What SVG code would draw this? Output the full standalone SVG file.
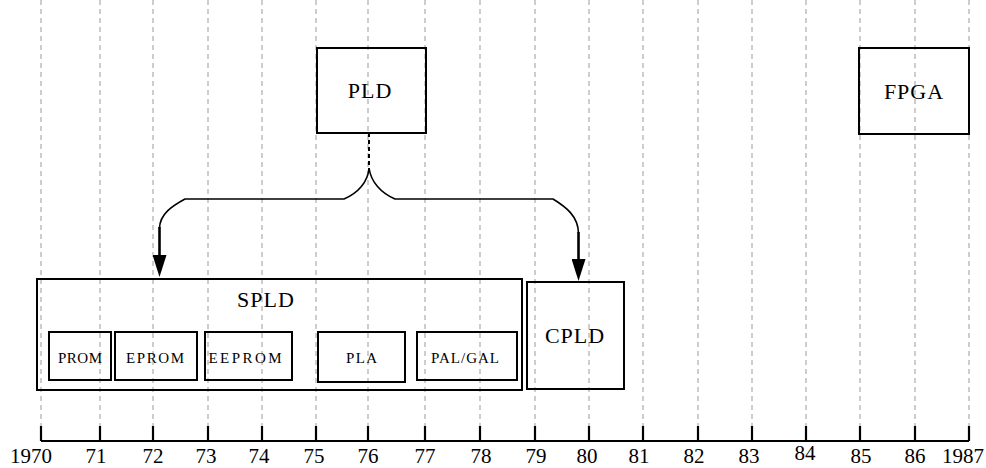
<svg xmlns="http://www.w3.org/2000/svg" width="986" height="468" viewBox="0 0 986 468">
<style>
.grid{stroke:#bdbdbd;stroke-width:1.5;stroke-dasharray:5 4;fill:none}
.box{fill:none;stroke:#000;stroke-width:2}
.ibox{fill:none;stroke:#000;stroke-width:2}
.t{font-family:"Liberation Serif","Times New Roman",serif;fill:#000;text-anchor:middle}
.big{font-size:22px;letter-spacing:1px}
.small{font-size:15px}
.axis{font-size:21px}
.tick{stroke:#000;stroke-width:2.2}
.conn{fill:none;stroke:#000;stroke-width:1.6}
.stem{fill:none;stroke:#000;stroke-width:2.6}
</style>
<defs>
<marker id="arr" viewBox="0 0 22 14" refX="0" refY="7" markerWidth="22" markerHeight="14" markerUnits="userSpaceOnUse" orient="auto">
<path d="M0,0 L22,7 L0,14 Z" fill="#000"/>
</marker>
</defs>
<rect width="986" height="468" fill="#fff"/>
<g id="grid">
<line class="grid" x1="41" y1="0" x2="41" y2="427"/>
<line class="grid" x1="100" y1="0" x2="100" y2="427"/>
<line class="grid" x1="153" y1="0" x2="153" y2="427"/>
<line class="grid" x1="208" y1="0" x2="208" y2="427"/>
<line class="grid" x1="262" y1="0" x2="262" y2="427"/>
<line class="grid" x1="316" y1="0" x2="316" y2="427"/>
<line class="grid" x1="368" y1="0" x2="368" y2="427"/>
<line class="grid" x1="425" y1="0" x2="425" y2="427"/>
<line class="grid" x1="480" y1="0" x2="480" y2="427"/>
<line class="grid" x1="535" y1="0" x2="535" y2="427"/>
<line class="grid" x1="589" y1="0" x2="589" y2="427"/>
<line class="grid" x1="643" y1="0" x2="643" y2="427"/>
<line class="grid" x1="698" y1="0" x2="698" y2="427"/>
<line class="grid" x1="752" y1="0" x2="752" y2="427"/>
<line class="grid" x1="806" y1="0" x2="806" y2="427"/>
<line class="grid" x1="860" y1="0" x2="860" y2="427"/>
<line class="grid" x1="915" y1="0" x2="915" y2="427"/>
<line class="grid" x1="969" y1="0" x2="969" y2="427"/>
</g>
<g id="axis">
<line x1="41" y1="441" x2="969" y2="441" stroke="#000" stroke-width="2"/>
<line class="tick" x1="41" y1="426" x2="41" y2="441" stroke-width="3"/>
<line class="tick" x1="100" y1="426" x2="100" y2="441"/>
<line class="tick" x1="153" y1="426" x2="153" y2="441"/>
<line class="tick" x1="208" y1="426" x2="208" y2="441"/>
<line class="tick" x1="262" y1="426" x2="262" y2="441"/>
<line class="tick" x1="316" y1="426" x2="316" y2="441"/>
<line class="tick" x1="368" y1="426" x2="368" y2="441"/>
<line class="tick" x1="425" y1="426" x2="425" y2="441" stroke-width="3"/>
<line class="tick" x1="480" y1="426" x2="480" y2="441"/>
<line class="tick" x1="535" y1="426" x2="535" y2="441" stroke-width="3"/>
<line class="tick" x1="589" y1="426" x2="589" y2="441"/>
<line class="tick" x1="643" y1="426" x2="643" y2="441" stroke-width="3"/>
<line class="tick" x1="698" y1="426" x2="698" y2="441"/>
<line class="tick" x1="752" y1="426" x2="752" y2="441"/>
<line class="tick" x1="806" y1="426" x2="806" y2="441"/>
<line class="tick" x1="860" y1="426" x2="860" y2="441"/>
<line class="tick" x1="915" y1="426" x2="915" y2="441"/>
<line class="tick" x1="969" y1="426" x2="969" y2="441"/>
<text class="t axis" x="31" y="463">1970</text>
<text class="t axis" x="96" y="463">71</text>
<text class="t axis" x="153" y="463">72</text>
<text class="t axis" x="206" y="463">73</text>
<text class="t axis" x="259" y="463">74</text>
<text class="t axis" x="314" y="463">75</text>
<text class="t axis" x="368" y="463">76</text>
<text class="t axis" x="425" y="463">77</text>
<text class="t axis" x="481" y="463">78</text>
<text class="t axis" x="536" y="463">79</text>
<text class="t axis" x="587" y="463">80</text>
<text class="t axis" x="639" y="463">81</text>
<text class="t axis" x="694" y="463">82</text>
<text class="t axis" x="749" y="463">83</text>
<text class="t axis" x="805" y="460">84</text>
<text class="t axis" x="861" y="463">85</text>
<text class="t axis" x="915" y="463">86</text>
<text class="t axis" x="963" y="463">1987</text>
</g>
<g id="PLD">
<rect class="box" x="317" y="48" width="109" height="85"/>
<text class="t big" x="370" y="98">PLD</text>
</g>
<g id="FPGA">
<rect class="box" x="859" y="48" width="110" height="86"/>
<text class="t big" x="914" y="99">FPGA</text>
</g>
<g id="SPLD">
<rect class="box" x="37" y="279" width="485" height="111"/>
<text class="t big" x="266" y="307">SPLD</text>
</g>
<g id="PROM">
<rect class="ibox" x="49" y="332" width="62" height="48"/>
<text class="t small" x="80" y="363" textLength="44" lengthAdjust="spacing">PROM</text>
</g>
<g id="EPROM">
<rect class="ibox" x="115" y="332" width="82" height="48"/>
<text class="t small" x="155" y="363" textLength="58" lengthAdjust="spacing">EPROM</text>
</g>
<g id="EEPROM">
<rect class="ibox" x="205" y="332" width="87" height="48"/>
<text class="t small" x="245" y="363" textLength="73" lengthAdjust="spacing">EEPROM</text>
</g>
<g id="PLA">
<rect class="ibox" x="318" y="332" width="87" height="50"/>
<text class="t small" x="361.5" y="363" textLength="31" lengthAdjust="spacing">PLA</text>
</g>
<g id="PALGAL">
<rect class="ibox" x="417" y="332" width="100" height="48"/>
<text class="t small" x="465" y="363" textLength="68" lengthAdjust="spacing">PAL/GAL</text>
</g>
<g id="CPLD">
<rect class="box" x="527" y="282" width="97" height="107"/>
<text class="t big" x="575" y="343">CPLD</text>
</g>
<g id="connectors">
<line x1="369" y1="133" x2="369" y2="168" stroke="#000" stroke-width="2" stroke-dasharray="4 3"/>
<path class="conn" d="M369,168 C368,182 358,193 344,199 L185,199 C172,206 160,214 159.5,228"/>
<path class="conn" d="M369,168 C371,182 381,193 395,199 L553,199 C566,207 578,216 578.5,233"/>
<line class="stem" x1="159.5" y1="227" x2="159.5" y2="255" marker-end="url(#arr)"/>
<line class="stem" x1="578.5" y1="232" x2="578.5" y2="259" marker-end="url(#arr)"/>
</g>
</svg>
